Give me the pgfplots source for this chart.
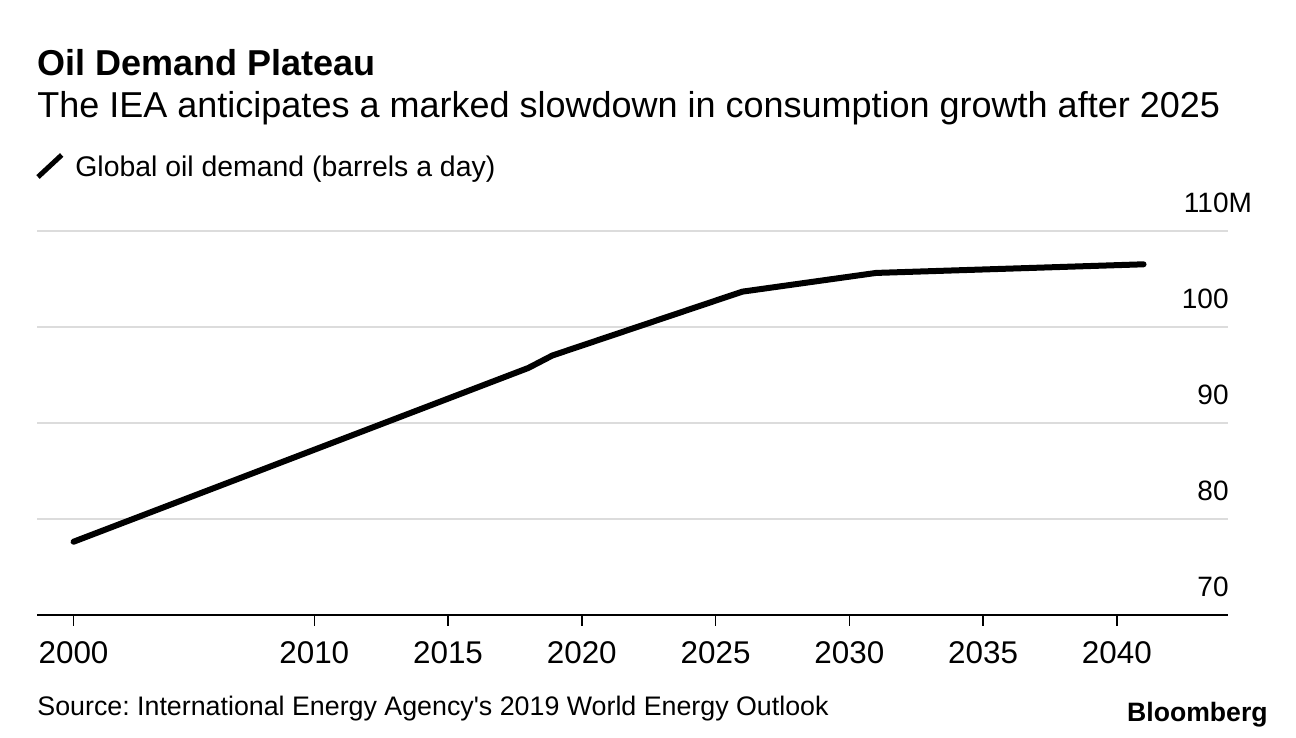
\documentclass[border=0pt]{standalone}
\usepackage{pgfplots}
\pgfplotsset{compat=1.18}
\usepackage{fontspec}
\setmainfont{Liberation Sans}
\definecolor{gridgray}{HTML}{DCDCDC}
\frenchspacing

\begin{document}
\begin{tikzpicture}[x=1pt,y=1pt]
\path (0,0) rectangle (648,369);
\begin{axis}[
  at={(18.5pt,61.65pt)}, anchor=south west,
  scale only axis, width=595.5pt, height=192pt,
  xmin=1999.634, xmax=2044.157,
  ymin=70, ymax=110,
  axis x line=bottom, axis y line=right,
  x axis line style={-, black, line width=1pt},
  y axis line style={draw=none},
  /pgf/number format/assume math mode=true,
  % the first tick sits one year to the right on the time scale
  xtick={2001,2010,2015,2020,2025,2030,2035,2040},
  xticklabels={2000,2010,2015,2020,2025,2030,2035,2040},
  tick align=outside, major tick length=5.5pt,
  xtick style={black, line width=0.7pt},
  xticklabel style={font=\fontsize{15.7}{18}\selectfont, anchor=base, inner sep=0pt, yshift=-19pt},
  ytick={70,80,90,100,110},
  yticklabels={70,80,90,100,110\rlap{M}},
  ytick style={draw=none},
  yticklabel style={font=\fontsize{14}{16}\selectfont, anchor=base east, inner sep=0pt, xshift=-5pt, yshift=8.85pt},
  ymajorgrids, grid style={gridgray, line width=0.85pt},
  clip=false,
]
\addplot[black, line width=3pt, line cap=round, line join=round] coordinates {
  (2001,77.6) (2018.0,95.7) (2018.9,97.0) (2026,103.65)
  (2031,105.6) (2036,106.05) (2041,106.5)
};
\end{axis}
\node[anchor=base west, inner sep=0pt, font=\bfseries\fontsize{18}{20}\selectfont] at (18.5,331.25) {Oil Demand Plateau};
\node[anchor=base west, inner sep=0pt, font=\fontsize{18}{21}\selectfont] at (18.5,310) {The IEA anticipates a marked slowdown in consumption growth after 2025};
\draw[line width=2.5pt] (19,280.5) -- (30.85,291.5);
\node[anchor=base west, inner sep=0pt, font=\fontsize{14.2}{17}\selectfont] at (37.5,280.65) {Global oil demand (barrels a day)};
\node[anchor=base west, inner sep=0pt, font=\fontsize{13.4}{15}\selectfont] at (18.5,11.15) {Source: International Energy Agency\textquotesingle s 2019 World Energy Outlook};
\node[anchor=base east, inner sep=0pt, font=\bfseries\fontsize{13.3}{15}\selectfont] at (634,8.15) {Bloomberg};
\end{tikzpicture}
\end{document}
